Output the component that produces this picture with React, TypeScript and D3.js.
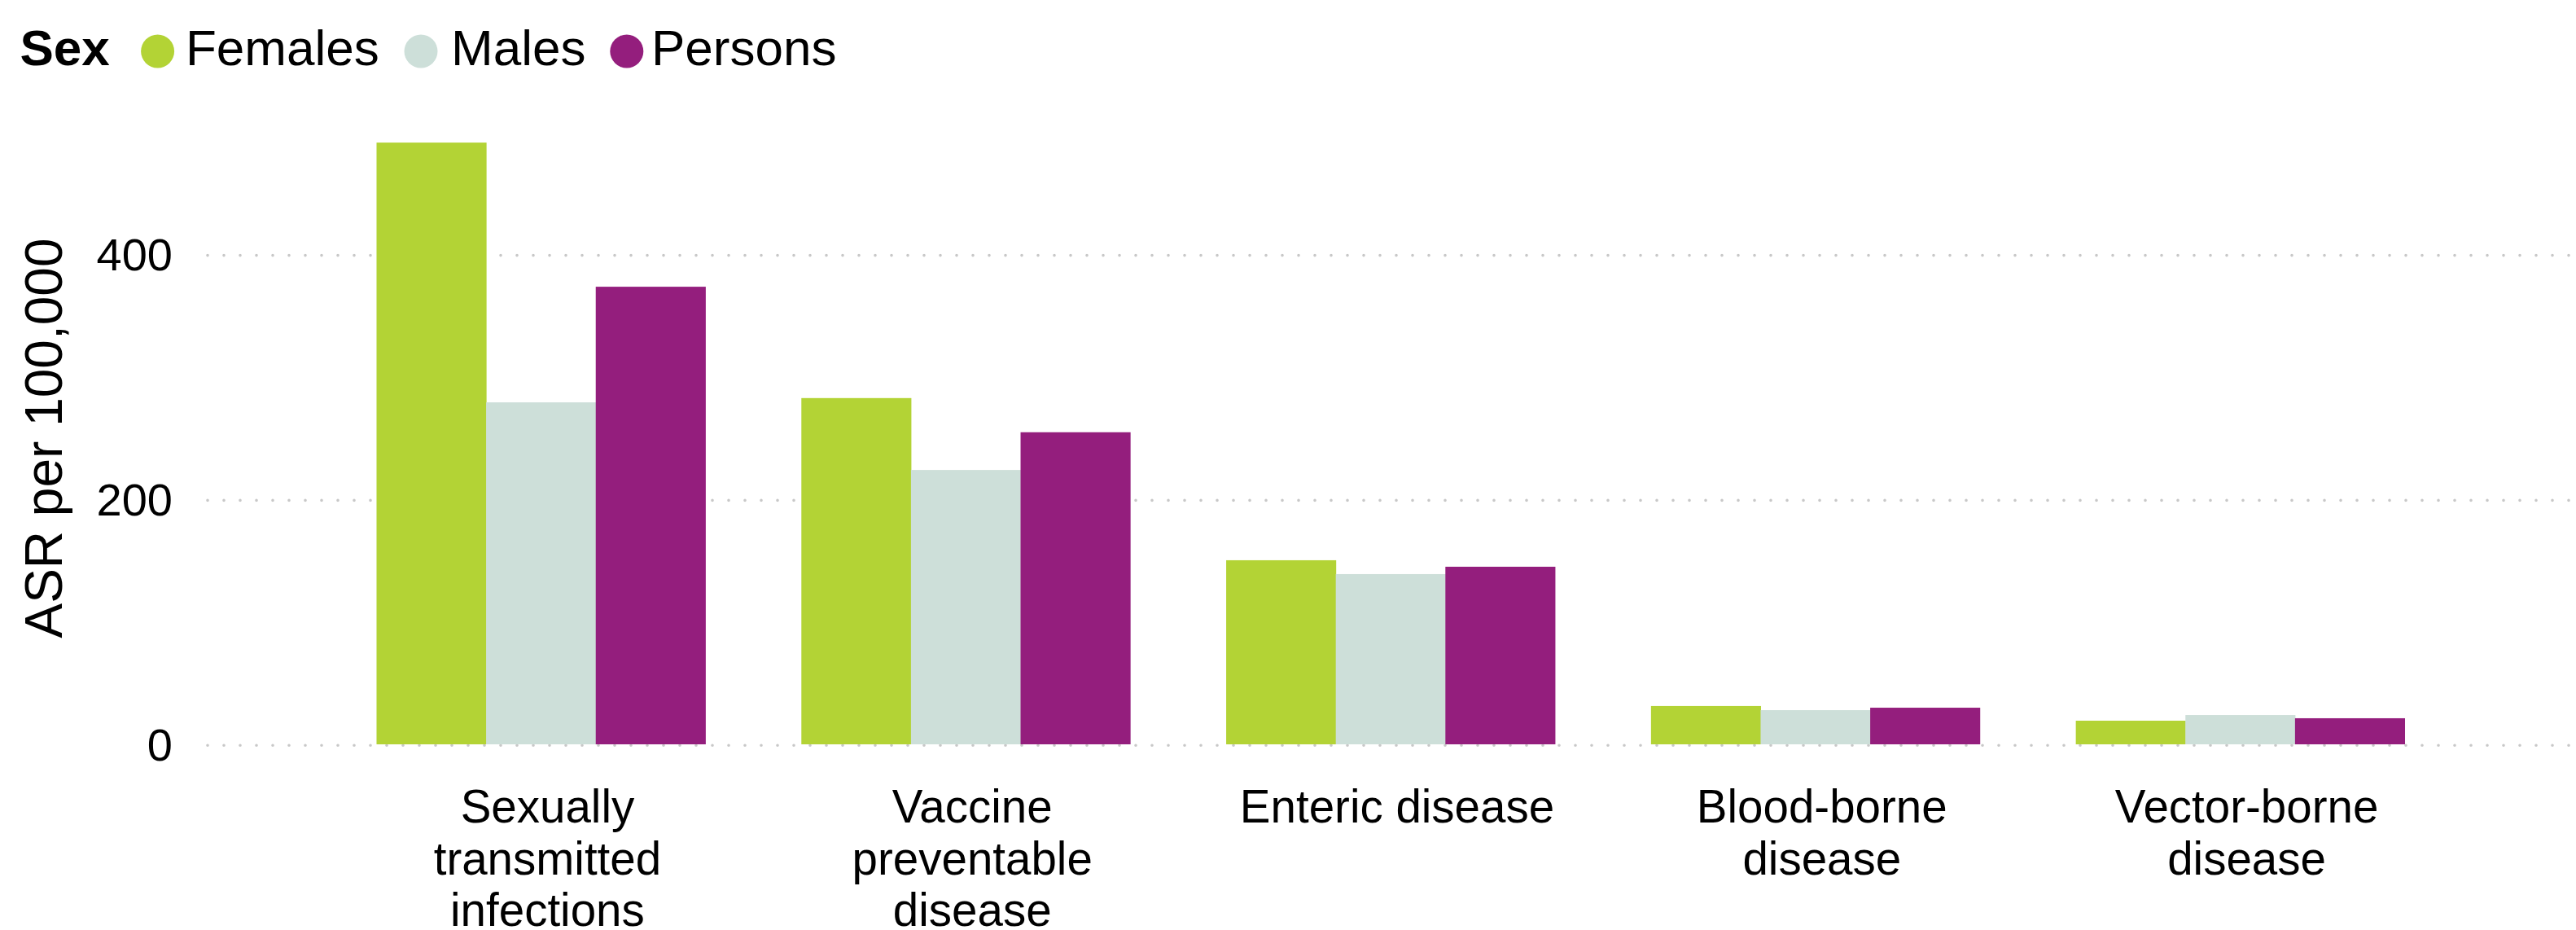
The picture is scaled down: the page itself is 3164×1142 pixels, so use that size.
import React from "react";
import * as d3 from "d3";

const categories = [
  "Sexually transmitted infections",
  "Vaccine preventable disease",
  "Enteric disease",
  "Blood-borne disease",
  "Vector-borne disease",
];
const categoryLines = [
  ["Sexually", "transmitted", "infections"],
  ["Vaccine", "preventable", "disease"],
  ["Enteric disease"],
  ["Blood-borne", "disease"],
  ["Vector-borne", "disease"],
];
const seriesNames = ["Females", "Males", "Persons"];
const females = [491.3, 282.7, 150.3, 31.3, 19.3];
const males = [279.2, 224.0, 139.0, 27.9, 23.9];
const persons = [373.6, 254.8, 145.0, 29.9, 21.3];
const seriesColors = ["#b3d335", "#cddfd9", "#941e7d"];
const yTicks = [0, 200, 400];
const yTitle = "ASR per 100,000";
const legendTitle = "Sex";

const W = 3164;
const H = 1142;
const FONT = "'Liberation Sans', Arial, Helvetica, sans-serif";

export default function App() {
  const seriesValues = [females, males, persons];
  const y = d3.scaleLinear().domain([0, 500]).range([914, 162]);
  const x0 = d3
    .scaleBand<string>()
    .domain(categories)
    .range([259, 3157])
    .paddingInner(0.226)
    .paddingOuter(0.39);
  const x1 = d3
    .scaleBand<string>()
    .domain(seriesNames)
    .range([0, x0.bandwidth()])
    .padding(0);

  const legendItems = [
    { cx: 193.6, tx: 228 },
    { cx: 517, tx: 554 },
    { cx: 769.8, tx: 800 },
  ];

  return (
    <svg
      width={W}
      height={H}
      viewBox={`0 0 ${W} ${H}`}
      style={{ position: "absolute", left: 0, top: 0, background: "#fff" }}
      fontFamily={FONT}
    >
      <rect width={W} height={H} fill="#fff" />
      {/* gridlines */}
      {yTicks.map((t) => (
        <line
          key={"g" + t}
          x1={255}
          x2={3156}
          y1={y(t) + 1.2}
          y2={y(t) + 1.2}
          stroke="#c8c8c8"
          strokeWidth={3.6}
          strokeLinecap="round"
          strokeDasharray="0 20"
        />
      ))}
      {/* y tick labels */}
      {yTicks.map((t) => (
        <text
          key={"t" + t}
          x={212}
          y={y(t) + 19.5}
          textAnchor="end"
          fontSize={56}
          fill="#000"
        >
          {d3.format(",")(t)}
        </text>
      ))}
      {/* y title */}
      <text
        transform={`translate(76,${(y(0) + y(500)) / 2}) rotate(-90)`}
        textAnchor="middle"
        fontSize={64}
        fill="#000"
      >
        {yTitle}
      </text>
      {/* bars */}
      {categories.map((c, i) => (
        <g key={c} transform={`translate(${x0(c)},0)`}>
          {seriesNames.map((s, j) => {
            const v = seriesValues[j][i];
            return (
              <rect
                key={s}
                x={x1(s)}
                y={y(v)}
                width={x1.bandwidth() + 0.5}
                height={y(0) - y(v)}
                fill={seriesColors[j]}
              />
            );
          })}
        </g>
      ))}
      {/* x labels */}
      {categories.map((c, i) => (
        <text
          key={"x" + c}
          x={(x0(c) as number) + x0.bandwidth() / 2 + 8}
          y={1010}
          textAnchor="middle"
          fontSize={56.5}
          fill="#000"
        >
          {categoryLines[i].map((ln, k) => (
            <tspan
              key={k}
              x={(x0(c) as number) + x0.bandwidth() / 2 + 8}
              y={1010 + k * 63.5}
            >
              {ln}
            </tspan>
          ))}
        </text>
      ))}
      {/* legend */}
      <text x={24.5} y={80} fontSize={62} fontWeight="bold" fill="#000">
        {legendTitle}
      </text>
      {seriesNames.map((s, j) => (
        <g key={"l" + s}>
          <circle cx={legendItems[j].cx} cy={63} r={20.5} fill={seriesColors[j]} />
          <text x={legendItems[j].tx} y={80} fontSize={62} fill="#000">
            {s}
          </text>
        </g>
      ))}
    </svg>
  );
}
